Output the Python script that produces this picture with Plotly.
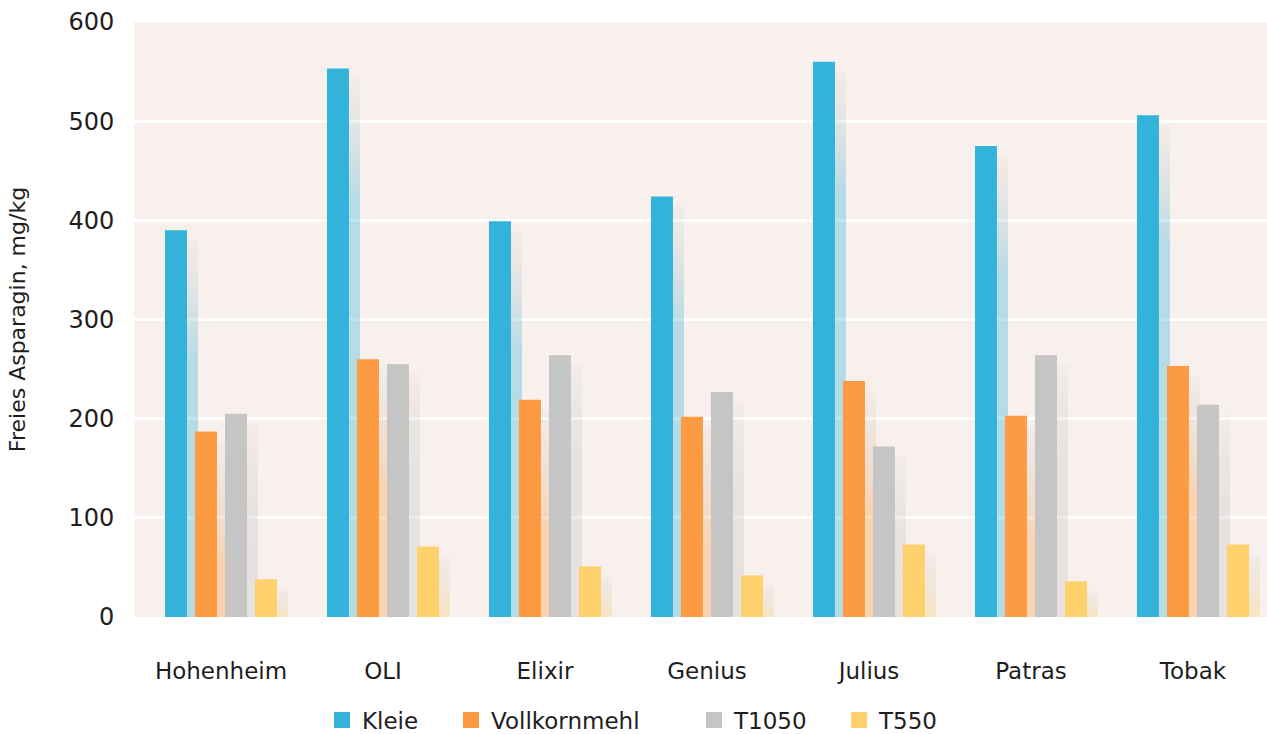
import plotly.graph_objects as go

# Freies Asparagin je Sorte und Mahlfraktion (mg/kg)
varieties = ["Hohenheim", "OLI", "Elixir", "Genius", "Julius", "Patras", "Tobak"]
kleie = [390, 553, 399, 424, 560, 475, 506]
vollkornmehl = [187, 260, 219, 202, 238, 203, 253]
t1050 = [205, 255, 264, 227, 172, 264, 214]
t550 = [38, 71, 51, 42, 73, 36, 73]

series_names = ["Kleie", "Vollkornmehl", "T1050", "T550"]
series_values = [kleie, vollkornmehl, t1050, t550]
series_rgb = [(52, 179, 218), (253, 155, 66), (197, 197, 197), (255, 209, 108)]
y_ticks = [0, 100, 200, 300, 400, 500, 600]

FONT = "DejaVu Sans"
TEXT = "#1e1e1e"

# geometry in x-axis units (one variety = 1 unit)
bar_w = 0.1358
step = 0.1852
shadow_dx = 0.0679
shadow_drop = 10
fade_len = 120

# plot area in pixels, used to place the separate legend boxes
PLOT_LEFT, PLOT_W = 134, 1133
legend_left_px = [322, 451, 694, 839]


def rgba(c, a):
    return f"rgba({c[0]},{c[1]},{c[2]},{a})"


fig = go.Figure()

# soft drop shadows behind each bar (drawn on the base axes)
for j, (vals, c) in enumerate(zip(series_values, series_rgb)):
    off = (j - 1.5) * step
    for i, v in enumerate(vals):
        top = max(v - shadow_drop, 0)
        x0 = i + off - bar_w / 2 + shadow_dx
        x1 = i + off + bar_w / 2 + shadow_dx
        fig.add_trace(go.Scatter(
            x=[x0, x1, x1, x0, x0], y=[0, 0, top, top, 0],
            mode="lines", line=dict(width=0), fill="toself",
            fillgradient=dict(
                type="vertical",
                colorscale=[[0, rgba(c, 0.34)], [1, "rgba(170,175,175,0.07)"]],
                start=max(top - fade_len, 0), stop=top,
            ),
            hoverinfo="skip", showlegend=False, xaxis="x", yaxis="y",
        ))

# bars on an overlaid axis so they sit above the shadows
for j, (name, vals, c) in enumerate(zip(series_names, series_values, series_rgb)):
    off = (j - 1.5) * step
    fig.add_trace(go.Bar(
        x=[i + off for i in range(len(varieties))], y=vals, width=bar_w,
        marker=dict(color=rgba(c, 1), line=dict(width=0)),
        name=name, showlegend=False, xaxis="x", yaxis="y2",
        hovertemplate="%{y} mg/kg<extra>" + name + "</extra>",
    ))

# one legend box per series so the entries can be spaced freely
legend_ids = ["legend", "legend2", "legend3", "legend4"]
for name, c, lid in zip(series_names, series_rgb, legend_ids):
    fig.add_trace(go.Scatter(
        x=[None], y=[None], mode="markers", name=name, legend=lid,
        marker=dict(symbol="square", size=18, color=rgba(c, 1)),
        xaxis="x", yaxis="y",
    ))

legend_style = dict(
    orientation="h", y=-0.173, yanchor="middle", xanchor="left",
    font=dict(size=23, family=FONT, color=TEXT),
    bgcolor="rgba(0,0,0,0)", borderwidth=0,
)
legends = {
    lid: dict(legend_style, x=(px - PLOT_LEFT) / PLOT_W)
    for lid, px in zip(legend_ids, legend_left_px)
}

fig.update_layout(
    width=1267, height=734,
    margin=dict(l=PLOT_LEFT, r=0, t=22, b=117, autoexpand=False),
    paper_bgcolor="white",
    plot_bgcolor="#F8F0EC",
    barmode="overlay",
    font=dict(family=FONT, color=TEXT),
    xaxis=dict(
        range=[-0.537, 6.457],
        tickmode="array", tickvals=list(range(len(varieties))), ticktext=varieties,
        tickfont=dict(size=23, family=FONT, color=TEXT),
        ticks="outside", ticklen=33, tickcolor="rgba(0,0,0,0)",
        showgrid=False, zeroline=False, showline=False,
    ),
    yaxis=dict(
        range=[0, 600],
        tickmode="array", tickvals=y_ticks,
        tickfont=dict(size=24, family=FONT, color=TEXT),
        ticks="outside", ticklen=14, tickcolor="rgba(0,0,0,0)",
        showgrid=True, gridcolor="white", gridwidth=3,
        zeroline=False, showline=False,
        title=dict(text="Freies Asparagin, mg/kg",
                   font=dict(size=22, family=FONT, color=TEXT), standoff=36),
    ),
    yaxis2=dict(range=[0, 600], overlaying="y", visible=False, showgrid=False),
    hovermode="closest",
    **legends,
)

fig.write_html("out.html")
